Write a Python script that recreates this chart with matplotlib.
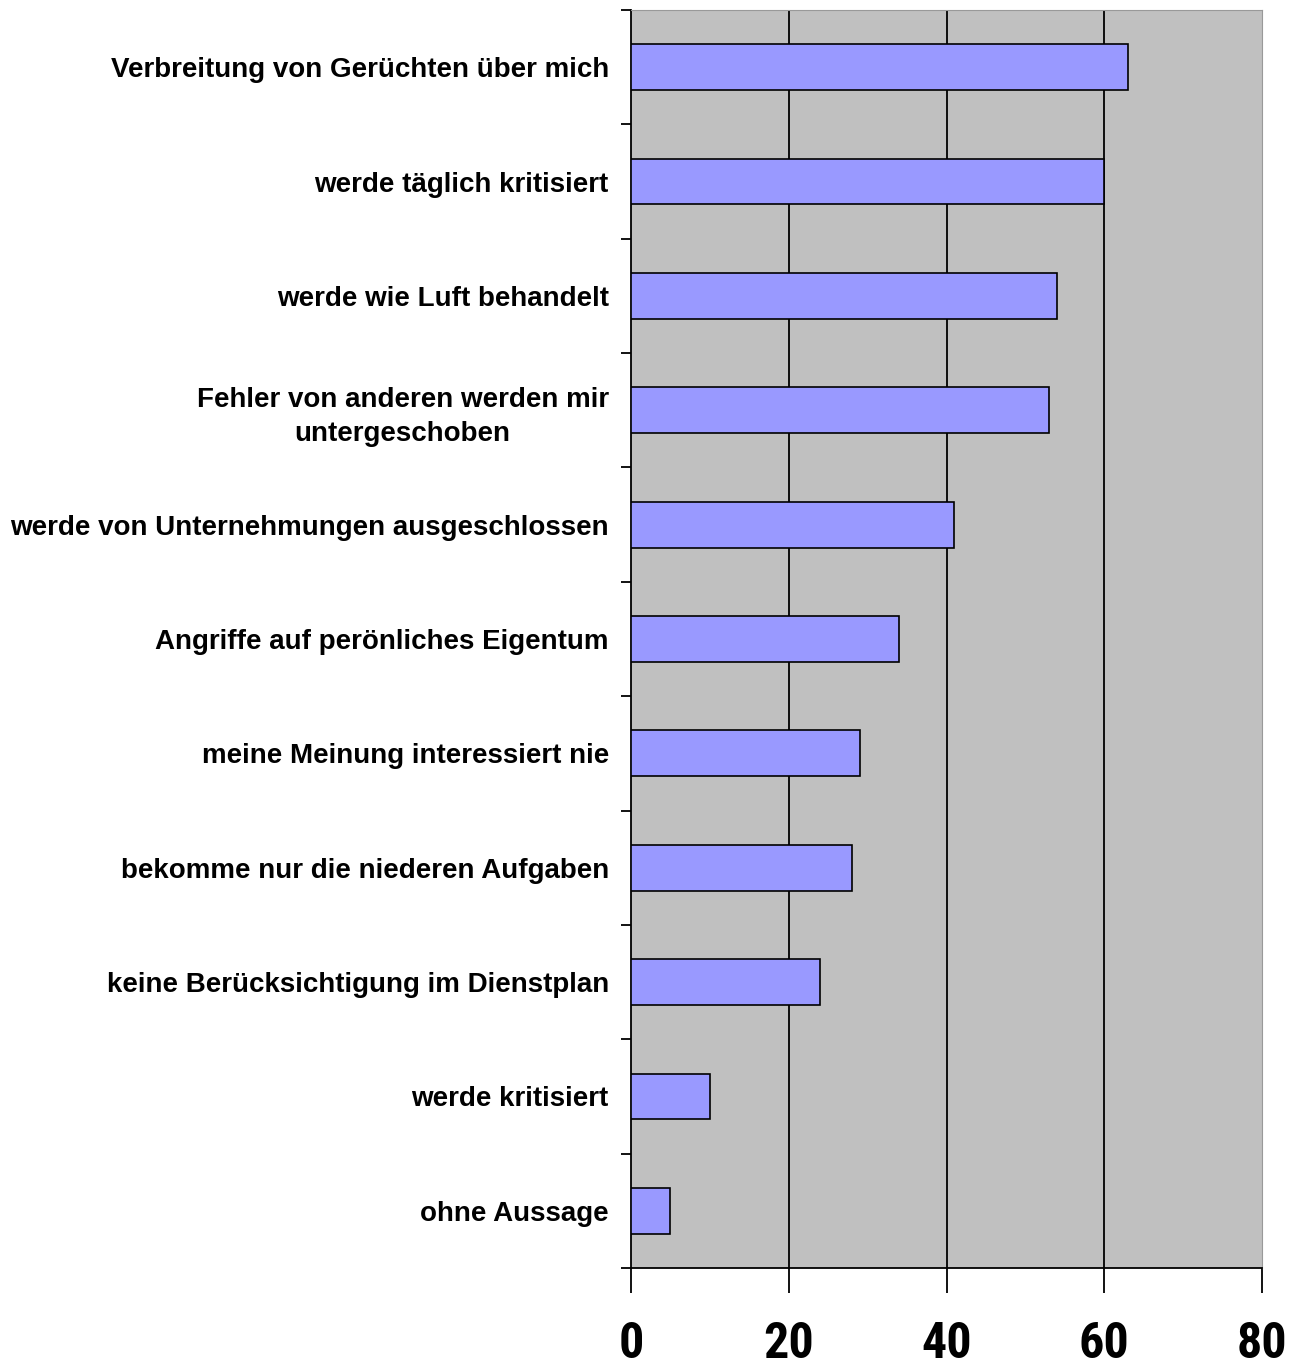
import matplotlib
matplotlib.use("Agg")
import matplotlib.pyplot as plt
from matplotlib import font_manager
import numpy as np

categories = [
    "Verbreitung von Gerüchten über mich",
    "werde täglich kritisiert",
    "werde wie Luft behandelt",
    "Fehler von anderen werden mir\nuntergeschoben",
    "werde von Unternehmungen ausgeschlossen",
    "Angriffe auf perönliches Eigentum",
    "meine Meinung interessiert nie",
    "bekomme nur die niederen Aufgaben",
    "keine Berücksichtigung im Dienstplan",
    "werde kritisiert",
    "ohne Aussage",
]
values = [63, 60, 54, 53, 41, 34, 29, 28, 24, 10, 5]
x_ticks = [0, 20, 40, 60, 80]

# pick a narrow face for the big axis numbers if one is around
names = {f.name for f in font_manager.fontManager.ttflist}
narrow = [n for n in ["Liberation Sans Narrow", "Arial Narrow", "DejaVu Sans Condensed",
                      "Roboto Condensed", "Open Sans Condensed"] if n in names]
num_family = narrow + ["DejaVu Sans"]

fig = plt.figure(figsize=(12.95, 13.69), dpi=100)
ax = fig.add_axes([631 / 1295, 1 - 1268 / 1369, 631 / 1295, 1258 / 1369])
ax.set_facecolor("#C0C0C0")

y = np.arange(len(categories))
ax.barh(y, values, height=0.4, color="#9999FF", edgecolor="black",
        linewidth=1.2, zorder=3)

ax.set_xlim(0, 80)
ax.set_ylim(len(categories) - 0.5, -0.5)

# vertical grid lines
for xv in x_ticks[1:-1]:
    ax.axvline(xv, color="black", linewidth=1.3, zorder=1)

ax.set_xticks(x_ticks)
ax.set_xticklabels([str(v) for v in x_ticks], fontfamily=num_family,
                   fontstretch="condensed", fontweight="bold", fontsize=36)
ax.tick_params(axis="x", length=18, width=1.3, direction="out", pad=20)

# category labels at bar centres, ticks at category boundaries
ax.set_yticks(y)
ax.set_yticklabels(categories, fontfamily="Liberation Sans",
                   fontweight="bold", fontsize=20, multialignment="center",
                   linespacing=1.4)
ax.tick_params(axis="y", which="major", length=0, pad=16)
ax.set_yticks(np.arange(-0.5, len(categories), 1.0), minor=True)
ax.tick_params(axis="y", which="minor", length=7, width=1.3, direction="out")

ax.spines["left"].set_linewidth(1.3)
ax.spines["bottom"].set_linewidth(1.3)
ax.spines["top"].set_color("#999999")
ax.spines["right"].set_color("#999999")

fig.savefig("out.png", dpi=100)
